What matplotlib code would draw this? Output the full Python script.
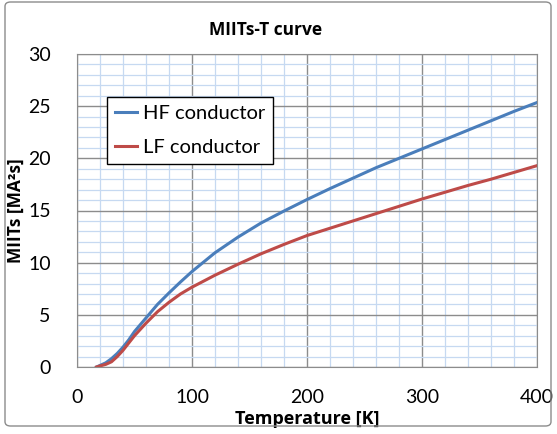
import numpy as np
import matplotlib.pyplot as plt
from matplotlib.patches import FancyBboxPatch

# temperature [K] and MIITs [MA^2 s]
temp = [17, 20, 25, 30, 35, 40, 45, 50, 55, 60, 70, 80, 90, 100, 120, 140, 160, 180,
        200, 220, 240, 260, 280, 300, 320, 340, 360, 380, 400]
hf_miits = [0.0, 0.15, 0.4, 0.8, 1.3, 1.9, 2.6, 3.4, 4.05, 4.7, 6.0, 7.1, 8.15, 9.15, 10.95,
            12.45, 13.8, 14.95, 16.05, 17.1, 18.1, 19.1, 20.0, 20.9, 21.8, 22.7, 23.6, 24.5, 25.35]
lf_miits = [0.0, 0.1, 0.25, 0.5, 1.0, 1.6, 2.3, 3.0, 3.6, 4.2, 5.3, 6.2, 7.0, 7.65, 8.8,
            9.85, 10.85, 11.75, 12.6, 13.3, 14.0, 14.7, 15.4, 16.1, 16.75, 17.4, 18.0, 18.65, 19.3]

plt.rcParams['font.family'] = ['Lato', 'DejaVu Sans']
bold = ['Open Sans', 'DejaVu Sans']

fig = plt.figure(figsize=(5.57, 4.34), dpi=100)
ax = fig.add_axes([77/557, 1 - 367/434, 460/557, 313/434])

ax.plot(temp, hf_miits, color='#4a7ebb', lw=2.2, label='HF conductor')
ax.plot(temp, lf_miits, color='#be4b48', lw=2.2, label='LF conductor')

ax.set_xlim(0, 400)
ax.set_ylim(0, 30)
ax.set_xticks(np.arange(0, 401, 100))
ax.set_yticks(np.arange(0, 31, 5))
ax.set_xticks(np.arange(0, 401, 20), minor=True)
ax.set_yticks(np.arange(0, 31, 1), minor=True)
ax.grid(which='minor', color='#c6d9f1', lw=0.9)
ax.grid(which='major', color='#8c8c8c', lw=1.0)
ax.set_axisbelow(True)
ax.tick_params(which='both', length=0)
ax.tick_params(labelsize=14)
ax.tick_params(axis='x', pad=16)
ax.tick_params(axis='y', pad=19)
for s in ax.spines.values():
    s.set_color('#8c8c8c')

ax.set_xlabel('Temperature [K]', fontsize=13, fontweight='bold', family=bold, labelpad=3)
ax.set_ylabel('MIITs [MA²s]', fontsize=12.5, fontweight='bold', family=bold, labelpad=2)
fig.text(266/557, 1 - 30/434, 'MIITs-T curve', fontsize=12.5, fontweight='bold',
         family=bold, ha='center', va='center')

leg = ax.legend(loc='upper left', bbox_to_anchor=(0.065, 0.863), fontsize=14.5,
                frameon=True, fancybox=False, handlelength=1.1, handletextpad=0.3,
                labelspacing=0.85, borderpad=0.4, borderaxespad=0)
leg.get_frame().set_edgecolor('black')
leg.get_frame().set_linewidth(1.0)
leg.get_frame().set_alpha(1)

fig.patches.append(FancyBboxPatch((5/557, 8/434), 546/557, 424/434,
                                  boxstyle='round,pad=0,rounding_size=0.01',
                                  transform=fig.transFigure, fill=False,
                                  edgecolor='#8c8c8c', lw=1.0))

fig.savefig('out.png', dpi=100)
